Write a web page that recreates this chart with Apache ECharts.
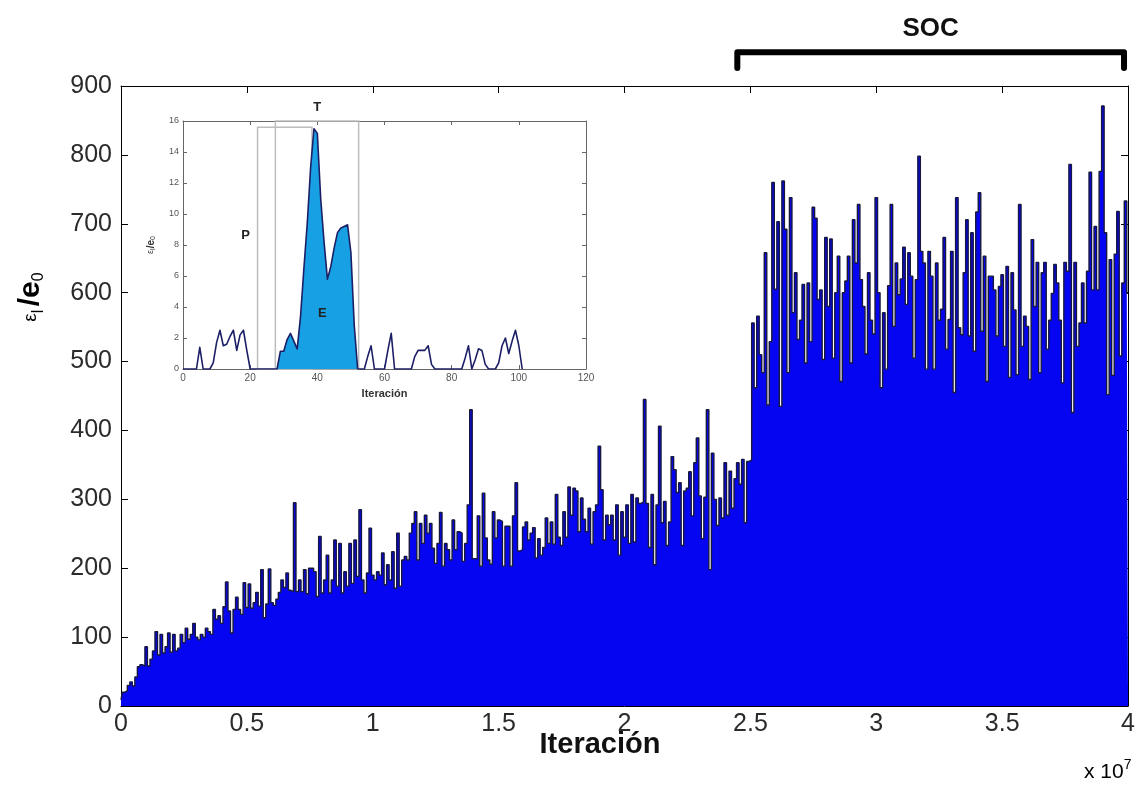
<!DOCTYPE html>
<html>
<head>
<meta charset="utf-8">
<script src="https://cdn.jsdelivr.net/npm/echarts@6/dist/echarts.min.js"></script>
<style>
  html, body { margin: 0; padding: 0; background: #fff; }
  #chart { width: 1138px; height: 790px; }
</style>
</head>
<body>
<div id="chart"></div>
<script>
// Spacing of the main trace samples, in iterations
const STEP = 1e5;

// ε_l/e_0 per sample, iterations 0 – 0.75·10^7
const rampA = [
  9, 20, 22, 30, 35, 29, 42, 57, 60, 58,
  86, 58, 68, 80, 108, 74, 104, 77, 86, 106,
  78, 104, 80, 84, 104, 92, 113, 97, 104, 120,
  100, 96, 104, 100, 113, 108, 104, 140, 126, 131,
  120, 144, 180, 138, 106, 140, 158, 140, 133, 179,
  143, 177, 142, 150, 165, 145, 198, 128, 148, 199,
  150, 146, 155, 165, 183, 172, 193, 168, 166, 295,
  166, 183, 166, 198, 163, 200
];
// 0.76 – 1.58·10^7
const rampB = [
  200, 195, 159, 246, 164, 183, 219, 164, 183, 241,
  174, 236, 164, 195, 174, 236, 178, 241, 188, 285,
  183, 164, 193, 258, 190, 183, 195, 190, 222, 176,
  205, 183, 224, 171, 251, 174, 212, 217, 212, 251,
  265, 282, 212, 265, 236, 277, 251, 265, 229, 207,
  236, 281, 203, 236, 227, 212, 270, 227, 253, 251,
  210, 236, 292, 430, 214, 214, 276, 203, 309, 244,
  212, 206, 282, 244, 270, 268, 203, 261, 261, 203,
  276, 324, 225
];
// 1.59 – 2.50·10^7
const rampC = [
  227, 260, 267, 241, 251, 259, 215, 243, 219, 230,
  273, 236, 267, 235, 307, 245, 233, 282, 245, 318,
  277, 316, 312, 253, 302, 271, 253, 287, 235, 282,
  292, 377, 314, 241, 277, 263, 277, 241, 292, 219,
  282, 245, 292, 236, 307, 238, 302, 294, 296, 445,
  294, 230, 307, 205, 292, 406, 266, 297, 233, 267,
  362, 343, 310, 324, 233, 312, 316, 340, 276, 353,
  389, 305, 243, 303, 430, 198, 367, 300, 262, 302,
  273, 353, 277, 341, 287, 330, 353, 322, 358, 266,
  355, 357
];
// 2.51 – 3.26·10^7 (SOC)
const socA = [
  556, 462, 566, 510, 484, 658, 437, 529, 760, 605,
  703, 435, 762, 692, 484, 738, 571, 629, 532, 560,
  612, 498, 614, 529, 724, 708, 590, 604, 503, 680,
  580, 678, 505, 600, 653, 471, 600, 617, 653, 498,
  706, 643, 728, 619, 580, 511, 629, 560, 540, 738,
  600, 462, 571, 489, 610, 728, 551, 643, 597, 620,
  666, 583, 658, 624, 505, 619, 798, 660, 643, 489,
  660, 624, 489, 643, 560, 576
];
// 3.27 – 4.00·10^7 (SOC)
const socB = [
  680, 518, 561, 660, 455, 738, 549, 539, 629, 706,
  537, 687, 515, 717, 745, 544, 653, 471, 624, 624,
  604, 537, 609, 626, 522, 638, 477, 629, 575, 481,
  728, 522, 566, 551, 474, 677, 580, 644, 484, 629,
  644, 518, 560, 599, 641, 614, 560, 469, 644, 631,
  786, 426, 644, 522, 556, 614, 556, 631, 775, 604,
  696, 604, 776, 871, 687, 452, 648, 480, 656, 718,
  508, 614, 733, 599
];

// Iteration span labelled SOC
const SOC_RANGE = [2.448e7, 3.984e7];

// Tick labels of the main axes
const xTickLabels = ['0', '0.5', '1', '1.5', '2', '2.5', '3', '3.5', '4'];
const yTickLabels = ['0', '100', '200', '300', '400', '500', '600', '700', '800', '900'];

// Inset: ε_l/e_0 at iterations 0, 1, 2, … 101
const insetVals = [
  0, 0, 0, 0, 0, 1.4, 0, 0, 0, 0.4,
  1.7, 2.5, 1.5, 1.6, 2.1, 2.5, 1.2, 2.2, 2.5, 1.2,
  0, 0, 0, 0, 0, 0, 0, 0, 0, 1.15,
  1.15, 1.9, 2.3, 1.8, 1.3, 3.4, 6.5, 9.4, 13.0, 15.5,
  15.2, 11.0, 8.2, 5.8, 6.6, 7.8, 8.8, 9.1, 9.2, 9.3,
  7.5, 2.8, 0, 0, 0, 0.8, 1.5, 0, 0, 0,
  0, 1.2, 2.3, 0, 0, 0, 0, 0, 0, 0.8,
  1.2, 1.2, 1.2, 1.5, 0.3, 0, 0, 0, 0, 0,
  0, 0, 0, 0, 0.7, 1.5, 0, 0.6, 1.3, 1.2,
  0.3, 0, 0, 0, 0.4, 1.5, 2.0, 1.0, 1.8, 2.5,
  1.5, 0
];
// Inset phases: P (pre), E (event)
const P_RANGE = [22.2, 38.4];
const E_RANGE = [27.5, 52.3];

const FONT = "'Liberation Sans', Arial, sans-serif";

const mainData = [].concat(rampA, rampB, rampC, socA, socB).map((v, i) => [i * STEP, v]);
const insetData = insetVals.map((v, i) => [i, v]);
const eFill = insetData.filter(p => p[0] >= 28 && p[0] <= 52);

const chart = echarts.init(document.getElementById('chart'), null, { renderer: 'canvas' });

function boxAxis(grid, pos, min, max, interval, color, tickLen) {
  return {
    gridIndex: grid, type: 'value', position: pos, min: min, max: max, interval: interval,
    axisLine: { show: true, onZero: false, lineStyle: { color: color, width: 1 } },
    axisTick: { show: true, inside: true, length: tickLen, lineStyle: { color: color } },
    axisLabel: { show: false },
    splitLine: { show: false }
  };
}

const option = {
  animation: false,
  backgroundColor: '#ffffff',
  grid: [
    { left: 121, top: 86, width: 1010, height: 620, show: false },
    { left: 183, top: 121, width: 403, height: 248, show: true, backgroundColor: '#ffffff', borderWidth: 0 }
  ],
  xAxis: [
    Object.assign(boxAxis(0, 'bottom', 0, 4e7, 5e6, '#000', 7), {
      axisLabel: {
        show: true, margin: 6, fontSize: 25, color: '#2b2b2b', fontFamily: FONT,
        formatter: v => xTickLabels[Math.round(v / 5e6)]
      }
    }),
    boxAxis(0, 'top', 0, 4e7, 5e6, '#000', 7),
    Object.assign(boxAxis(1, 'bottom', 0, 120, 20, '#666', 4), {
      axisLabel: { show: true, margin: 4, fontSize: 10, color: '#555', fontFamily: FONT },
      name: 'Iteración', nameLocation: 'middle', nameGap: 19,
      nameTextStyle: { fontSize: 11, fontWeight: 'bold', color: '#333', fontFamily: FONT }
    }),
    boxAxis(1, 'top', 0, 120, 20, '#666', 4)
  ],
  yAxis: [
    Object.assign(boxAxis(0, 'left', 0, 900, 100, '#000', 7), {
      axisLabel: {
        show: true, margin: 9, fontSize: 25, color: '#2b2b2b', fontFamily: FONT,
        formatter: v => yTickLabels[Math.round(v / 100)]
      }
    }),
    boxAxis(0, 'right', 0, 900, 100, '#000', 7),
    Object.assign(boxAxis(1, 'left', 0, 16, 2, '#666', 4), {
      axisLabel: { show: true, margin: 4, fontSize: 9, color: '#555', fontFamily: FONT },
      name: '{e|ε}{s|l}{b|/e}{s|0}', nameLocation: 'middle', nameGap: 26, nameRotate: 90,
      nameTextStyle: {
        color: '#333', fontFamily: FONT,
        rich: {
          e: { fontSize: 9, lineHeight: 12, fontFamily: FONT, color: '#333' },
          b: { fontSize: 10, lineHeight: 12, fontWeight: 'bold', fontFamily: FONT, color: '#333' },
          s: { fontSize: 7, lineHeight: 7, verticalAlign: 'bottom', fontFamily: FONT, color: '#333' }
        }
      }
    }),
    boxAxis(1, 'right', 0, 16, 2, '#666', 4)
  ],
  series: [
    {
      // stepped trace: each sample is a narrow column outlined in navy
      name: 'main', type: 'line', xAxisIndex: 0, yAxisIndex: 0,
      data: mainData, showSymbol: false, symbol: 'none', step: 'middle',
      lineStyle: { color: '#18183e', width: 1.4 },
      areaStyle: { color: '#0505f2', opacity: 1 },
      silent: true, z: 2
    },
    {
      name: 'soc', type: 'line', xAxisIndex: 0, yAxisIndex: 0,
      data: [[SOC_RANGE[0], 926], [SOC_RANGE[0], 949], [SOC_RANGE[1], 949], [SOC_RANGE[1], 926]],
      symbol: 'none', clip: false, silent: true, z: 6,
      lineStyle: { color: '#000', width: 6, cap: 'round', join: 'round' }
    },
    {
      name: 'insetFill', type: 'line', xAxisIndex: 2, yAxisIndex: 2,
      data: eFill, symbol: 'none', silent: true, z: 4,
      lineStyle: { width: 0, opacity: 0 },
      areaStyle: { color: '#17a0e4', opacity: 1 },
      markArea: {
        silent: true,
        itemStyle: { color: 'rgba(0,0,0,0)', borderColor: '#bdbdbd', borderWidth: 1.5 },
        data: [
          [{ coord: [P_RANGE[0], 0] }, { coord: [P_RANGE[1], 15.6] }],
          [{ coord: [E_RANGE[0], 0] }, { coord: [E_RANGE[1], 16] }]
        ]
      }
    },
    {
      name: 'inset', type: 'line', xAxisIndex: 2, yAxisIndex: 2,
      data: insetData, symbol: 'none', silent: true, z: 5,
      lineStyle: { color: '#1c1f66', width: 1.6, join: 'round' }
    }
  ]
};

chart.setOption(option);

// Text placed around the plot box and phase letters in the inset
const px = (axisX, axisY, pt) => chart.convertToPixel({ xAxisIndex: axisX, yAxisIndex: axisY }, pt);
const socMid = px(0, 0, [(SOC_RANGE[0] + SOC_RANGE[1]) / 2, 949]);
const pPos = px(2, 2, [18.6, 8.6]);
const tPos = px(2, 2, [40, 16.9]);
const ePos = px(2, 2, [41.5, 3.6]);
const tag = (p, s) => ({
  type: 'text', x: p[0], y: p[1], z: 20,
  style: { text: s, font: 'bold 13px ' + FONT, fill: '#222', align: 'center', verticalAlign: 'middle' }
});

chart.setOption({
  graphic: [
    tag(pPos, 'P'), tag(tPos, 'T'), tag(ePos, 'E'),
    {
      type: 'text', x: socMid[0], y: socMid[1] - 23,
      style: { text: 'SOC', font: 'bold 26px ' + FONT, fill: '#111', align: 'center', verticalAlign: 'middle' }
    },
    {
      type: 'text', x: 600, y: 745,
      style: { text: 'Iteración', font: 'bold 29px ' + FONT, fill: '#111', align: 'center', verticalAlign: 'middle' }
    },
    {
      type: 'text', x: 1084, y: 772,
      style: {
        text: '{a|x 10}{p|7}', align: 'left', verticalAlign: 'middle',
        rich: {
          a: { fontSize: 21, lineHeight: 28, fontFamily: FONT, color: '#333' },
          p: { fontSize: 14, lineHeight: 14, verticalAlign: 'top', fontFamily: FONT, color: '#333' }
        }
      }
    },
    {
      type: 'text', x: 31, y: 297, rotation: Math.PI / 2,
      style: {
        text: '{e|ε}{s|l} {b|/e}{s|0}', align: 'center', verticalAlign: 'middle',
        rich: {
          e: { fontSize: 19, lineHeight: 32, fontFamily: FONT, color: '#222' },
          b: { fontSize: 30, lineHeight: 32, fontWeight: 'bold', fontFamily: FONT, color: '#111' },
          s: { fontSize: 16, lineHeight: 16, verticalAlign: 'bottom', fontFamily: FONT, color: '#222' }
        }
      }
    }
  ]
});
</script>
</body>
</html>
